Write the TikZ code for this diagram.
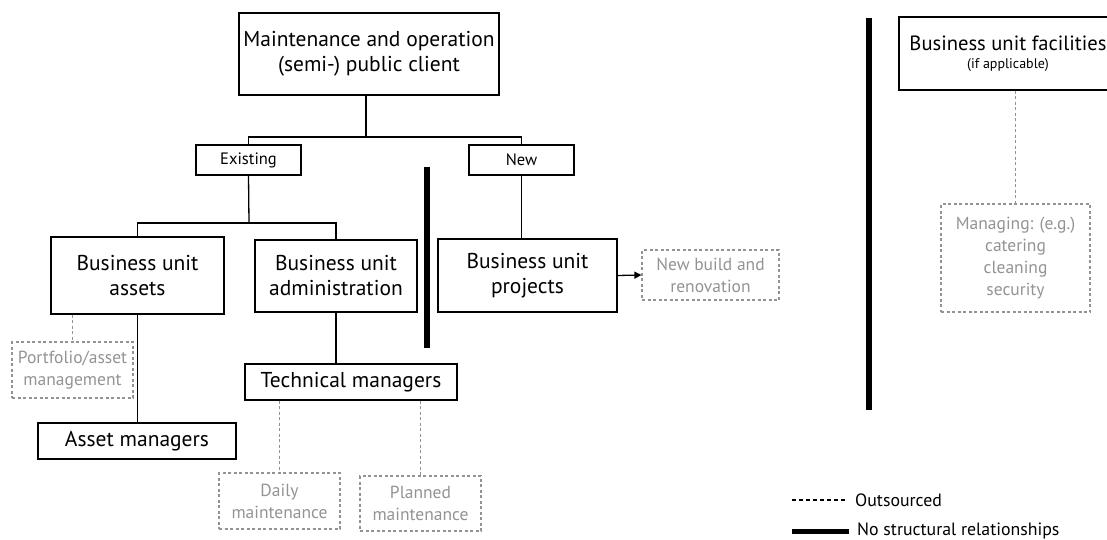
\documentclass[tikz,border=0pt]{standalone}
\usepackage{fontspec}
\setmainfont{PT Sans}
\usetikzlibrary{arrows.meta}
\definecolor{outgray}{HTML}{939393}
\tikzset{
  unit/.style={draw=black, line width=1.3pt, align=center, inner sep=0pt,
    font=\fontsize{21.5}{25}\selectfont},
  branch/.style={draw=black, line width=1.3pt, align=center, inner sep=0pt,
    font=\fontsize{16.5}{20}\selectfont},
  outbox/.style={draw=outgray, line width=1.2pt, dash pattern=on 3pt off 2.5pt,
    text=outgray, align=center, inner sep=0pt, font=\fontsize{17.5}{22}\selectfont},
  link/.style={line width=1.3pt, draw=black},
  outlink/.style={line width=1.2pt, draw=outgray, dash pattern=on 3pt off 2.5pt},
  divider/.style={line width=5.5pt, draw=black},
  legendtext/.style={anchor=west, inner sep=0pt, font=\fontsize{17.8}{20}\selectfont}
}
\begin{document}
\begin{tikzpicture}[x=1pt, y=-1pt]
\useasboundingbox (0,0) rectangle (1107,540);

% organisation tree
\node[unit, minimum width=260pt, minimum height=82pt] (top) at (369,54)
  {Maintenance and operation\\(semi-) public client};
\node[branch, minimum width=105pt, minimum height=30pt] (existing) at (248.5,160) {Existing};
\node[branch, minimum width=105pt, minimum height=30pt] (new) at (521.5,160) {New};
\node[unit, minimum width=173pt, minimum height=77pt] (assets) at (137.5,275.5)
  {Business unit\\assets};
\node[unit, minimum width=162pt, minimum height=72pt] (admin) at (336,276)
  {Business unit\\administration};
\node[unit, minimum width=179pt, minimum height=73pt] (projects) at (527.5,275.5)
  {Business unit\\projects};
\node[outbox, minimum width=137pt, minimum height=50pt] (newbuild) at (710.5,275)
  {New build and\\renovation};
\node[outbox, minimum width=121pt, minimum height=56pt] (portfolio) at (72.5,370)
  {Portfolio/asset\\management};
\node[unit, minimum width=198pt, minimum height=36pt] (assetmgr) at (137,441)
  {Asset managers};
\node[unit, minimum width=212pt, minimum height=36pt] (tech) at (351,382)
  {Technical managers};
\node[outbox, minimum width=121pt, minimum height=56pt] (daily) at (279.5,501)
  {Daily\\maintenance};
\node[outbox, minimum width=121pt, minimum height=55pt] (planned) at (420.5,503.5)
  {Planned\\maintenance};

% facilities (separate unit)
\node[unit, minimum width=218pt, minimum height=73pt, font=\fontsize{20.6}{24}\selectfont]
  (facilities) at (1008,53.5)
  {Business unit facilities\\[-6pt]{\fontsize{14}{15}\selectfont (if applicable)}};
\node[outbox, minimum width=149pt, minimum height=108pt] (managing) at (1015.5,258)
  {Managing: (e.g.)\\catering\\cleaning\\security};

% junctions of the tree
\coordinate (j1) at (366,137);
\coordinate (j2) at (249,223);

\draw[link] (j1 |- top.south) -- (j1);
\draw[link] (existing.north) |- (j1) -| (new.north);
\draw[link] (existing.south) -- (j2);
\draw[link] (assets.north) |- (j2) -| (admin.north);
\draw[link] (new.south) -- (new.south |- projects.north);
\draw[link] (assets.south) -- (assets.south |- assetmgr.north);
\draw[link] (admin.south) -- (admin.south |- tech.north);
\draw[link, -{Triangle[length=7pt, width=7pt]}] (projects.east) -- (newbuild.west);

\draw[outlink] (portfolio.north |- assets.south) -- (portfolio.north);
\draw[outlink] (daily.north |- tech.south) -- (daily.north);
\draw[outlink] (planned.north |- tech.south) -- (planned.north);
\draw[outlink] (facilities.south -| managing.north) -- (managing.north);

% no structural relationship bars
\coordinate (b1t) at (427,167);
\coordinate (b1b) at (427,348);
\coordinate (b2t) at (869,18);
\coordinate (b2b) at (869,410);
\draw[divider] (b1t) -- (b1b);
\draw[divider] (b2t) -- (b2b);

% legend
\coordinate (l1a) at (792,500);
\coordinate (l1b) at (847,500);
\coordinate (l2a) at (792,531);
\coordinate (l2b) at (849,531);
\draw[line width=1.2pt, dash pattern=on 4pt off 3pt] (l1a) -- (l1b);
\draw[line width=5pt] (l2a) -- (l2b);
\node[legendtext] (lt1) at (855,500) {Outsourced};
\node[legendtext] (lt2) at (857,531) {No structural relationships};
\end{tikzpicture}
\end{document}
